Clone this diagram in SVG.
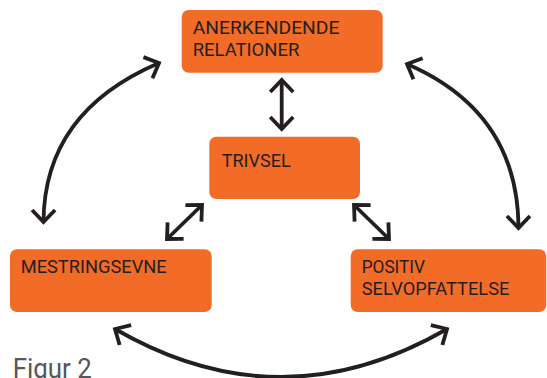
<svg xmlns="http://www.w3.org/2000/svg" width="547" height="378" viewBox="0 0 547 378">
<style>
.box{fill:#F26B27;}
.lbl{font-family:Roboto,"Liberation Sans",sans-serif;font-size:17.5px;fill:#231F20;}
.cap{font-family:Roboto,"Liberation Sans",sans-serif;font-size:27px;fill:#55575A;}
.con{fill:none;stroke:#231F20;stroke-width:3.8;}
</style>
<defs>
<marker id="ah" markerUnits="userSpaceOnUse" markerWidth="40" markerHeight="40" viewBox="-20 -20 40 40" refX="0" refY="0" orient="auto-start-reverse">
<path d="M-12,-11.5 L0,0 L-12,11.5" fill="none" stroke="#231F20" stroke-width="3.8" stroke-linejoin="miter"/>
</marker>
</defs>
<rect width="547" height="378" fill="#FFFFFF"/>
<g id="connectors">
<path class="con" d="M281.7,80 L281.7,129" marker-start="url(#ah)" marker-end="url(#ah)"/>
<path class="con" d="M202,205 L167,239" marker-start="url(#ah)" marker-end="url(#ah)"/>
<path class="con" d="M354,205 L389,239" marker-start="url(#ah)" marker-end="url(#ah)"/>
<path class="con" d="M159,63 Q44,112 43.5,222" marker-start="url(#ah)" marker-end="url(#ah)"/>
<path class="con" d="M407,64 Q518,112 518.5,228" marker-start="url(#ah)" marker-end="url(#ah)"/>
<path class="con" d="M115,329 Q281,425 447,329" marker-start="url(#ah)" marker-end="url(#ah)"/>
</g>
<g id="anerkendende">
<rect class="box" x="181.7" y="10" width="201" height="62.7" rx="7"/>
<text class="lbl" x="192.7" y="34.3" textLength="146.7" lengthAdjust="spacingAndGlyphs">ANERKENDENDE</text>
<text class="lbl" x="192.7" y="55.7" textLength="106.7" lengthAdjust="spacingAndGlyphs">RELATIONER</text>
</g>
<g id="trivsel">
<rect class="box" x="209.3" y="136.7" width="150.7" height="62.3" rx="7"/>
<text class="lbl" x="221.7" y="166.7" textLength="69" lengthAdjust="spacingAndGlyphs">TRIVSEL</text>
</g>
<g id="mestringsevne">
<rect class="box" x="10" y="249.3" width="201.7" height="62.7" rx="7"/>
<text class="lbl" x="20.7" y="273.3" textLength="146" lengthAdjust="spacingAndGlyphs">MESTRINGSEVNE</text>
</g>
<g id="positiv">
<rect class="box" x="350.7" y="249.3" width="195.5" height="62.7" rx="7"/>
<text class="lbl" x="361.7" y="273.3" textLength="63.3" lengthAdjust="spacingAndGlyphs">POSITIV</text>
<text class="lbl" x="361.7" y="295" textLength="147.7" lengthAdjust="spacingAndGlyphs">SELVOPFATTELSE</text>
</g>
<text class="cap" x="12.7" y="377.7" textLength="79" lengthAdjust="spacingAndGlyphs">Figur 2</text>
</svg>
